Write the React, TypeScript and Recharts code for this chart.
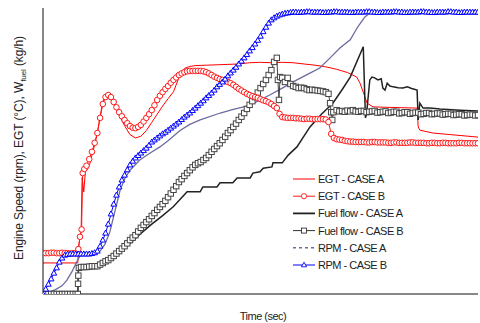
import { LineChart, Line, XAxis, YAxis } from 'recharts';

// time (s) / value pairs
const egtA: [number, number][] = [
  [0, 76], [3, 76], [6.4, 76], [6.5, 110], [6.8, 140], [7.0, 150], [7.2, 285], [7.5, 250], [7.8, 300],
  [8.2, 305], [8.6, 318], [9, 340], [9.5, 365], [10, 395], [10.5, 435], [11, 470], [11.5, 488], [12, 490],
  [12.5, 484], [13, 466], [14, 438], [15, 412], [16, 390], [17, 382], [18, 386], [19, 400], [20, 420],
  [21, 440], [22, 460], [23, 478], [24, 495], [25, 530], [26, 552], [27, 557], [28, 559], [30, 560],
  [32, 561], [34, 562], [36, 563], [38, 566], [40, 567], [42, 566], [44, 567], [46, 566], [48, 563],
  [50, 560], [52, 556], [54, 550], [56, 542], [57.7, 531], [58.3, 516], [59, 490], [59.6, 467],
  [60.7, 458], [63, 457], [66, 456], [68.8, 455], [69, 409], [69.3, 401], [71.7, 394], [75, 390], [80, 384],
];

const egtB: [number, number][] = [
  [0, 100], [0.5, 100], [1, 100], [1.5, 101], [2, 101], [2.5, 100], [3, 100], [3.5, 101], [4, 100],
  [4.5, 100], [5, 99], [5.5, 100], [6, 100], [6.5, 110], [6.8, 140], [7.1, 158],
  [7.3, 296], [7.6, 306], [8, 314], [8.5, 330], [9, 348], [9.5, 370], [10, 394], [10.5, 431], [11, 465],
  [11.5, 482], [12, 487], [12.5, 482], [13, 470], [13.5, 457], [14, 445], [14.5, 435], [15, 426],
  [15.5, 418], [16, 411], [16.5, 407], [17, 406], [17.5, 409], [18, 414], [18.5, 422], [19, 431],
  [19.5, 440], [20, 450], [20.5, 462], [21, 475], [21.5, 485], [22, 494], [22.5, 502], [23, 509],
  [23.5, 517], [24, 524], [24.5, 530], [25, 536], [25.5, 540], [26, 543], [26.5, 545], [27, 546],
  [27.5, 546], [28, 546], [28.5, 546], [29, 546], [29.5, 545], [30, 543], [30.5, 540], [31, 536],
  [31.5, 532], [32, 529], [32.5, 526], [33, 524], [33.5, 521], [34, 519], [34.5, 516], [35, 512],
  [35.5, 507], [36, 502], [36.5, 498], [37, 494], [37.5, 490], [38, 487], [38.5, 484], [39, 482],
  [39.5, 480], [40, 477], [40.5, 474], [41, 472], [41.5, 469], [42, 465], [42.5, 460], [43, 455],
  [43.5, 441], [44, 433], [44.5, 432], [45, 431], [45.5, 431], [46, 431], [46.5, 430], [47, 430],
  [47.5, 429], [48, 428], [48.5, 429], [49, 429], [49.5, 428], [50, 428], [50.5, 428], [51, 428],
  [51.5, 428], [52, 427], [52.5, 421], [53, 392], [53.5, 382], [54, 379], [54.5, 378], [55, 377],
  [55.5, 375], [56, 374], [56.5, 373], [57, 373], [57.5, 372], [58, 372], [58.5, 372], [59, 372],
  [59.5, 371], [60, 371], [60.5, 372], [61, 372], [61.5, 371], [62, 371], [62.5, 371], [63, 371],
  [63.5, 370], [64, 370], [64.5, 371], [65, 371], [65.5, 370], [66, 370], [66.5, 370], [67, 370],
  [67.5, 371], [68, 371], [68.5, 370], [69, 370], [69.5, 370], [70, 370], [70.5, 369], [71, 369],
  [71.5, 370], [72, 370], [72.5, 369], [73, 369], [73.5, 370], [74, 370], [74.5, 369], [75, 369],
  [75.5, 369], [76, 369], [76.5, 370], [77, 370], [77.5, 369], [78, 369], [78.5, 369], [79, 369],
  [79.5, 369], [80, 369],
];

const fuelA: [number, number][] = [
  [0, 0], [3, 0], [6.4, 0], [6.5, 64], [7, 64], [8.5, 66], [10, 68], [12, 78], [14, 98], [16, 124],
  [18, 148], [20, 171], [22, 192], [24, 214], [26.5, 250], [28.9, 250], [29.4, 262], [32, 262],
  [32.55, 272], [34.9, 272], [35.7, 284], [38.1, 284], [38.6, 296], [39.9, 299], [40.5, 308], [42.1, 311],
  [42.3, 321], [44, 321], [45.1, 340], [46.7, 360], [49.1, 409], [51.2, 440], [53.3, 467], [55, 500],
  [56.5, 531], [58.9, 605], [59.3, 431], [59.5, 440], [60.1, 524], [60.5, 531], [61, 529], [61.6, 524],
  [62.2, 527], [62.5, 504], [62.9, 499], [63.3, 516], [63.8, 509], [64.4, 507], [65.3, 505], [66.2, 504],
  [67, 507], [67.8, 503], [68.8, 499], [69, 426], [69.3, 467], [69.9, 455], [71.2, 455], [73, 453],
  [76.7, 450], [80, 448],
];

const fuelB: [number, number][] = [
  [0, 0], [0.5, 0], [1, 0], [1.5, 0], [2, 0], [2.5, 0], [3, 0], [3.5, 0], [4, 0], [4.5, 0], [5, 0],
  [5.5, 0], [6, 0], [6.4, 0], [6.45, 25], [6.5, 45], [6.6, 64], [7, 66], [7.5, 66], [8, 66], [8.5, 67],
  [9, 68], [9.5, 68], [10, 68], [10.5, 72], [11, 76], [11.5, 80], [12, 83], [12.5, 88], [13, 93],
  [13.5, 99], [14, 105], [14.5, 111], [15, 117], [15.5, 124], [16, 132], [16.5, 138], [17, 144],
  [17.5, 153], [18, 162], [18.5, 169], [19, 176], [19.5, 183], [20, 191], [20.5, 198], [21, 206],
  [21.5, 213], [22, 220], [22.5, 228], [23, 237], [23.5, 246], [24, 255], [24.5, 264], [25, 274],
  [25.5, 281], [26, 289], [26.5, 296], [27, 303], [27.5, 310], [28, 316], [28.5, 320], [29, 323],
  [29.5, 328], [30, 333], [30.5, 340], [31, 348], [31.5, 355], [32, 362], [32.5, 369], [33, 377],
  [33.5, 385], [34, 394], [34.5, 401], [35, 409], [35.5, 417], [36, 426], [36.5, 434], [37, 443],
  [37.5, 453], [38, 463], [38.5, 472], [39, 482], [39.5, 493], [40, 504], [40.5, 514], [41, 524],
  [41.5, 536], [42, 548], [42.5, 568], [43, 578], [43.2, 524], [43.4, 475], [43.6, 531], [44, 529],
  [44.5, 519], [45, 529], [45.5, 514], [46, 509], [46.5, 507], [47, 504], [47.5, 505], [48, 504],
  [48.5, 501], [49, 499], [49.5, 500], [50, 499], [50.5, 498], [51, 497], [51.5, 496], [52, 494],
  [52.5, 490], [52.8, 467], [53, 445], [53.2, 426], [53.4, 445], [54, 450], [54.5, 447], [55, 448],
  [55.5, 446], [56, 449], [56.5, 447], [57, 450], [57.5, 447], [58, 446], [58.5, 448], [59, 448],
  [59.5, 445], [60, 446], [60.5, 447], [61, 448], [61.5, 444], [62, 445], [62.5, 446], [63, 447],
  [63.5, 443], [64, 444], [64.5, 446], [65, 446], [65.5, 442], [66, 443], [66.5, 445], [67, 445],
  [67.5, 441], [68, 443], [68.5, 444], [69, 444], [69.5, 440], [70, 441], [70.5, 443], [71, 443],
  [71.5, 440], [72, 441], [72.5, 442], [73, 442], [73.5, 439], [74, 440], [74.5, 441], [75, 441],
  [75.5, 438], [76, 439], [76.5, 440], [77, 440], [77.5, 437], [78, 438], [78.5, 439], [79, 439],
  [79.5, 437], [80, 438],
];

const rpmA: [number, number][] = [
  [0, 0], [0.7, 2], [2.2, 10], [3.5, 20], [4.4, 34], [5.3, 54], [6.3, 81], [6.8, 93], [7.7, 98], [9.6, 98],
  [10.5, 105], [11.4, 122], [12.3, 152], [13.2, 201], [14.2, 255], [15.1, 284], [16, 303], [17.8, 328],
  [19.7, 345], [21.5, 360], [23, 375], [25.2, 400], [27, 415], [28.9, 426], [32.6, 443], [35, 452],
  [37.5, 460], [39.5, 472], [41.7, 487], [44, 504], [46.7, 524], [49, 540], [50.9, 553], [52.8, 578],
  [54.6, 602], [56.5, 622], [57.9, 654], [59.2, 678], [60.1, 688], [62, 690], [70, 690], [80, 690],
];

const rpmB: [number, number][] = [
  [0, 0], [0.5, 12], [1, 24], [1.5, 37], [2, 51], [2.5, 64], [3, 78], [3.5, 88], [4, 95], [4.5, 97],
  [5, 98], [5.5, 98], [6, 98], [6.5, 98], [7, 98], [7.5, 98], [8, 98], [8.5, 98], [9, 99], [9.5, 101],
  [10, 105], [10.5, 117], [11, 132], [11.5, 149], [12, 171], [12.5, 196], [13, 220], [13.5, 242],
  [14, 262], [14.5, 279], [15, 291], [15.5, 304], [16, 316], [16.5, 325], [17, 333], [17.5, 339],
  [18, 345], [18.5, 351], [19, 357], [19.5, 364], [20, 372], [20.5, 377], [21, 382], [21.5, 387],
  [22, 392], [22.5, 396], [23, 401], [23.5, 406], [24, 411], [24.5, 416], [25, 421], [25.5, 427],
  [26, 433], [26.5, 438], [27, 443], [27.5, 449], [28, 455], [28.5, 461], [29, 467], [29.5, 473],
  [30, 480], [30.5, 486], [31, 492], [31.5, 499], [32, 507], [32.5, 513], [33, 519], [33.5, 526],
  [34, 534], [34.5, 541], [35, 548], [35.5, 555], [36, 563], [36.5, 570], [37, 578], [37.5, 586],
  [38, 595], [38.5, 603], [39, 612], [39.5, 621], [40, 631], [40.5, 642], [41, 653], [41.5, 663],
  [42, 671], [42.5, 676], [43, 680], [43.5, 683], [44, 685], [44.5, 687], [45, 688], [45.5, 689],
  [46, 690], [46.5, 690], [47, 689], [47.5, 690], [48, 690], [48.5, 691], [49, 691], [49.5, 690],
  [50, 690], [50.5, 690], [51, 690], [51.5, 689], [52, 689], [52.5, 690], [53, 690], [53.5, 691],
  [54, 691], [54.5, 690], [55, 690], [55.5, 690], [56, 690], [56.5, 689], [57, 689], [57.5, 690],
  [58, 690], [58.5, 690], [59, 690], [59.5, 691], [60, 691], [60.5, 690], [61, 690], [61.5, 689],
  [62, 689], [62.5, 690], [63, 690], [63.5, 690], [64, 690], [64.5, 691], [65, 691], [65.5, 690],
  [66, 690], [66.5, 689], [67, 689], [67.5, 690], [68, 690], [68.5, 690], [69, 690], [69.5, 691],
  [70, 691], [70.5, 690], [71, 690], [71.5, 689], [72, 689], [72.5, 690], [73, 690], [73.5, 690],
  [74, 690], [74.5, 691], [75, 691], [75.5, 690], [76, 690], [76.5, 689], [77, 689], [77.5, 690],
  [78, 690], [78.5, 690], [79, 690], [79.5, 690], [80, 690],
];

const xTicks = [0, 10, 20, 30, 40, 50, 60, 70, 80];
const yTicks = [0, 100, 200, 300, 400, 500, 600, 700];

const toRows = (pts: [number, number][]) => pts.map(([t, v]) => ({ t, v }));

const FONT = '"Liberation Sans", Arial, sans-serif';

const circleDot = (p: any) =>
  p.cx == null ? null : (
    <circle key={`c${p.index}`} cx={p.cx} cy={p.cy} r={2.8} fill="#fff" stroke="#ff1a1a" strokeWidth={1} />
  );
const squareDot = (p: any) =>
  p.cx == null ? null : (
    <rect key={`s${p.index}`} x={p.cx - 2.7} y={p.cy - 2.7} width={5.4} height={5.4} fill="#fff" stroke="#444" strokeWidth={1} />
  );
const triDot = (p: any) =>
  p.cx == null ? null : (
    <path key={`t${p.index}`} d={`M${p.cx},${p.cy - 3}L${p.cx + 2.8},${p.cy + 2}L${p.cx - 2.8},${p.cy + 2}Z`} fill="#fff" stroke="#0000ff" strokeWidth={1} />
  );

const legendItems = [
  { label: 'EGT - CASE A', color: '#ff0000', width: 1, marker: 'none', dash: '' },
  { label: 'EGT - CASE B', color: '#ff1a1a', width: 1, marker: 'circle', dash: '' },
  { label: 'Fuel flow - CASE A', color: '#222', width: 1.8, marker: 'none', dash: '' },
  { label: 'Fuel flow - CASE B', color: '#333', width: 1, marker: 'square', dash: '' },
  { label: 'RPM - CASE A', color: '#6b6ba0', width: 1.5, marker: 'none', dash: '3 3' },
  { label: 'RPM - CASE B', color: '#0000ff', width: 1, marker: 'tri', dash: '' },
];

function LegendBox() {
  return (
    <svg width={190} height={104} style={{ position: 'absolute', left: 290, top: 170 }}>
      {legendItems.map((it, i) => {
        const y = 9 + i * 17.2;
        return (
          <g key={it.label}>
            <line x1={3} x2={25} y1={y} y2={y} stroke={it.color} strokeWidth={it.width} strokeDasharray={it.dash || undefined} />
            {it.marker === 'circle' && <circle cx={14} cy={y} r={2.6} fill="#fff" stroke={it.color} strokeWidth={0.9} />}
            {it.marker === 'square' && <rect x={11.5} y={y - 2.5} width={5} height={5} fill="#fff" stroke={it.color} strokeWidth={0.9} />}
            {it.marker === 'tri' && <path d={`M14,${y - 2.8}L16.6,${y + 1.8}L11.4,${y + 1.8}Z`} fill="#fff" stroke={it.color} strokeWidth={0.9} />}
            <text x={28} y={y + 4} fontSize={11} fontFamily={FONT} letterSpacing={-0.5} fill="#222">{it.label}</text>
          </g>
        );
      })}
    </svg>
  );
}

const yLabel = () => (
  <text x={23} y={148} transform="rotate(-90, 23, 148)" textAnchor="middle" fontSize={12} fontFamily={FONT} fill="#222" letterSpacing={-0.1}>
    Engine Speed (rpm), EGT (°C), W<tspan fontSize={8} dy={3}>fuel</tspan><tspan dy={-3}> (kg/h)</tspan>
  </text>
);

const xLabel = () => (
  <text x={263} y={320} textAnchor="middle" fontSize={11} fontFamily={FONT} fill="#222" letterSpacing={-0.5}>
    Time (sec)
  </text>
);

export default function App() {
  return (
    <div style={{ position: 'absolute', left: 0, top: 0, width: 480, height: 323, background: '#fff' }}>
      <LineChart width={480} height={323} margin={{ top: 8, right: 2, bottom: 0, left: 0 }}>
        <XAxis
          dataKey="t" type="number" domain={[0, 80]} ticks={xTicks} tick={false}
          tickSize={-3} height={29} stroke="#111" allowDataOverflow label={xLabel}
        />
        <YAxis
          type="number" domain={[0, 700]} ticks={yTicks} tick={false}
          tickSize={-3} width={43} stroke="#111" allowDataOverflow label={yLabel}
        />
        <Line data={toRows(egtA)} dataKey="v" name="EGT - CASE A" stroke="#ff0000" strokeWidth={1} dot={false} isAnimationActive={false} />
        <Line data={toRows(fuelA)} dataKey="v" name="Fuel flow - CASE A" stroke="#222" strokeWidth={1.5} dot={false} isAnimationActive={false} />
        <Line data={toRows(rpmA)} dataKey="v" name="RPM - CASE A" stroke="#6b6ba0" strokeWidth={1.3} dot={false} isAnimationActive={false} />
        <Line data={toRows(fuelB)} dataKey="v" name="Fuel flow - CASE B" stroke="#444" strokeWidth={1} dot={squareDot} isAnimationActive={false} />
        <Line data={toRows(egtB)} dataKey="v" name="EGT - CASE B" stroke="#ff1a1a" strokeWidth={1} dot={circleDot} isAnimationActive={false} />
        <Line data={toRows(rpmB)} dataKey="v" name="RPM - CASE B" stroke="#0000ff" strokeWidth={1} dot={triDot} isAnimationActive={false} />
      </LineChart>
      <LegendBox />
    </div>
  );
}
